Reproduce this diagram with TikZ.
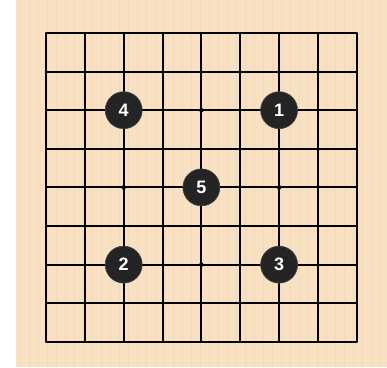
\documentclass[tikz,border=0pt]{standalone}
\usepackage{fontspec}
\setmainfont{Liberation Sans}
\definecolor{wood}{RGB}{248,224,194}
\definecolor{grain}{RGB}{240,208,170}
\definecolor{stone}{RGB}{36,36,36}
\tikzset{
  stonenode/.style={circle, fill=stone, draw=stone!85!white, line width=0.6pt, minimum size=37pt, inner sep=0pt,
    text=white, font=\fontsize{18}{18}\selectfont\bfseries},
  hoshi/.style={circle, fill=black, minimum size=4.5pt, inner sep=0pt}
}
\begin{document}
\begin{tikzpicture}[x=1pt, y=-1pt, line join=round, line cap=round]
  \def\xo{46}\def\yo{33}\def\dx{38.85}\def\dy{38.6}
  \useasboundingbox (0,0) rectangle (387,367);
  \fill[white] (0,0) rectangle (16,367);
  \fill[wood] (16,0) rectangle (387,367);
  % wood grain
  \foreach \g in {20,29,...,385} \draw[grain, line width=0.7pt, opacity=0.4] (\g,0)--(\g,367);
  % grid
  \foreach \i in {0,...,8} {
    \draw[line width=2pt, line cap=butt] (\xo+\i*\dx,\yo)--(\xo+\i*\dx,\yo+8*\dy);
    \draw[line width=2pt, line cap=butt] (\xo,\yo+\i*\dy)--(\xo+8*\dx,\yo+\i*\dy);
  }
  \draw[line width=2.3pt] (\xo,\yo) rectangle (\xo+8*\dx,\yo+8*\dy);
  % star points
  \foreach \i/\j [count=\k] in {4/2,2/4,6/4,4/6} \node[hoshi] (h\k) at (\xo+\i*\dx,\yo+\j*\dy) {};
  % stones
  \node[stonenode] (s1) at (\xo+6*\dx,\yo+2*\dy) {1};
  \node[stonenode] (s2) at (\xo+2*\dx,\yo+6*\dy) {2};
  \node[stonenode] (s3) at (\xo+6*\dx,\yo+6*\dy) {3};
  \node[stonenode] (s4) at (\xo+2*\dx,\yo+2*\dy) {4};
  \node[stonenode] (s5) at (\xo+4*\dx,\yo+4*\dy) {5};
\end{tikzpicture}
\end{document}
